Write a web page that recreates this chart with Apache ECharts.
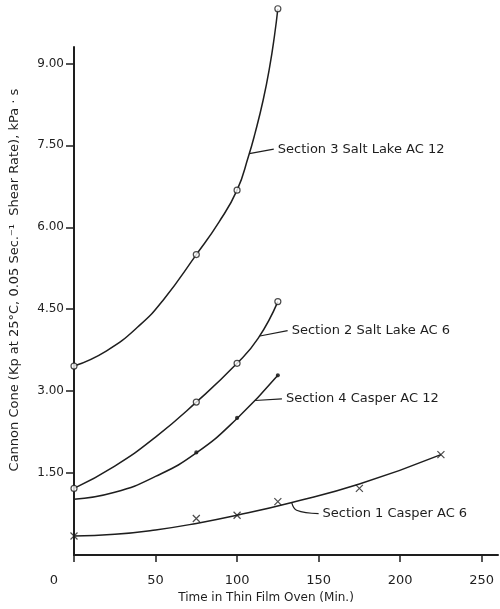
<!DOCTYPE html>
<html lang="en">
<head>
<meta charset="UTF-8">
<title>Cannon Cone viscosity vs time in thin film oven</title>
<script src="https://cdn.jsdelivr.net/npm/echarts@6/dist/echarts.min.js"></script>
<style>
  html, body { margin: 0; padding: 0; background: #fff; }
  #main { width: 500px; height: 609px; }
</style>
</head>
<body>
<div id="main"></div>
<script>
// tick labels
var timeTicks = [0, 50, 100, 150, 200, 250];
var viscTicks = [1.5, 3.0, 4.5, 6.0, 7.5, 9.0];

// measured points (time in min, viscosity)
var s3Time = [0, 75, 100, 125];
var s3Val  = [3.46, 5.50, 6.68, 10.0];
var s2Time = [0, 75, 100, 125];
var s2Val  = [1.22, 2.80, 3.51, 4.64];
var s4Time = [75, 100, 125];
var s4Val  = [1.88, 2.51, 3.29];
var s1Time = [0, 75, 100, 125, 175, 225];
var s1Val  = [0.35, 0.67, 0.73, 0.98, 1.22, 1.84];

// hand drawn curves
var s3CurveT = [0, 20, 40, 55, 75, 89, 100, 107, 111, 116, 120, 123, 125];
var s3CurveV = [3.46, 3.74, 4.20, 4.68, 5.50, 6.10, 6.68, 7.30, 7.72, 8.33, 8.94, 9.52, 10.0];
var s2CurveT = [0, 25, 50, 75, 100, 113, 125];
var s2CurveV = [1.22, 1.63, 2.16, 2.80, 3.51, 3.97, 4.64];
var s4CurveT = [0, 25, 50, 75, 100, 125];
var s4CurveV = [1.02, 1.15, 1.44, 1.87, 2.50, 3.29];
var s1CurveT = [0, 25, 50, 75, 100, 133, 175, 225];
var s1CurveV = [0.35, 0.38, 0.46, 0.58, 0.73, 0.96, 1.30, 1.84];

// label names and pointer lines
var names = ['Section 3 Salt Lake AC 12', 'Section 2 Salt Lake AC 6', 'Section 4 Casper AC 12', 'Section 1 Casper AC 6'];
var s3PtrT = [107.5, 122.5];        var s3PtrV = [7.35, 7.43];
var s2PtrT = [114, 131];            var s2PtrV = [4.01, 4.11];
var s4PtrT = [111, 127.5];          var s4PtrV = [2.83, 2.86];
var s1PtrT = [133.5, 136.5, 150];   var s1PtrV = [0.96, 0.82, 0.76];

function pairs(t, v) {
  var out = [];
  for (var i = 0; i < t.length; i++) out.push([t[i], v[i]]);
  return out;
}

var ink = '#1e1e1e';
var font = 'DejaVu Sans';
var xMark = 'path://M0,0L10,10M10,0L0,10';

function curve(t, v) {
  return {
    type: 'line', data: pairs(t, v), smooth: 0.5, symbol: 'none', clip: false,
    lineStyle: { color: ink, width: 1.5 }, silent: true, z: 2
  };
}
function marks(t, v, symbol, size, filled) {
  return {
    type: 'scatter', data: pairs(t, v), symbol: symbol, symbolSize: size, clip: false,
    itemStyle: { color: filled ? ink : '#fff', borderColor: ink, borderWidth: 1.2 }, z: 3
  };
}
function pointer(t, v, label) {
  return {
    type: 'line', data: pairs(t, v), smooth: 0.4, symbol: 'none', clip: false,
    lineStyle: { color: ink, width: 1.2 },
    endLabel: {
      show: true, formatter: label, distance: 4,
      color: ink, fontFamily: font, fontSize: 13
    },
    z: 2
  };
}

var myChart = echarts.init(document.getElementById('main'));

var option = {
  backgroundColor: '#fff',
  animation: false,
  grid: { left: 72, right: 2, top: 47, bottom: 51 },
  xAxis: {
    type: 'value', min: 0, max: 260, interval: 50,
    name: 'Time in Thin Film Oven (Min.)',
    nameLocation: 'middle', nameGap: 36,
    nameTextStyle: { color: ink, fontFamily: font, fontSize: 12, padding: [0, 40, 0, 0] },
    axisLine: { show: true, lineStyle: { color: ink, width: 2 } },
    axisTick: { show: true, length: 7, customValues: timeTicks, lineStyle: { color: ink, width: 1.5 } },
    axisLabel: {
      customValues: timeTicks, margin: 19, color: ink, fontFamily: font, fontSize: 13,
      formatter: function (v) { return v === 0 ? '{z|0}' : String(v); },
      rich: { z: { padding: [0, 40, 0, 0], fontFamily: font, fontSize: 13, color: ink } }
    },
    splitLine: { show: false }
  },
  yAxis: {
    type: 'value', min: 0, max: 9.3, interval: 1.5,
    name: 'Cannon Cone (Kp at 25\u00B0C, 0.05 Sec.\u207B\u00B9  Shear Rate), kPa \u00B7 s',
    nameLocation: 'middle', nameGap: 53,
    nameTextStyle: { color: ink, fontFamily: font, fontSize: 13, padding: [0, 0, 0, 42] },
    axisLine: { show: true, lineStyle: { color: ink, width: 2 } },
    axisTick: { show: true, length: 8, customValues: viscTicks, lineStyle: { color: ink, width: 1.5 } },
    axisLabel: {
      customValues: viscTicks, margin: 10, color: ink, fontFamily: font, fontSize: 12,
      formatter: function (v) { return v.toFixed(2); }
    },
    splitLine: { show: false }
  },
  series: [
    curve(s3CurveT, s3CurveV),
    curve(s2CurveT, s2CurveV),
    curve(s4CurveT, s4CurveV),
    curve(s1CurveT, s1CurveV),
    marks(s3Time, s3Val, 'circle', 6, false),
    marks(s2Time, s2Val, 'circle', 6, false),
    marks(s4Time, s4Val, 'circle', 3, true),
    marks(s1Time, s1Val, xMark, 7, false),
    pointer(s3PtrT, s3PtrV, names[0]),
    pointer(s2PtrT, s2PtrV, names[1]),
    pointer(s4PtrT, s4PtrV, names[2]),
    pointer(s1PtrT, s1PtrV, names[3])
  ]
};

myChart.setOption(option);
</script>
</body>
</html>
